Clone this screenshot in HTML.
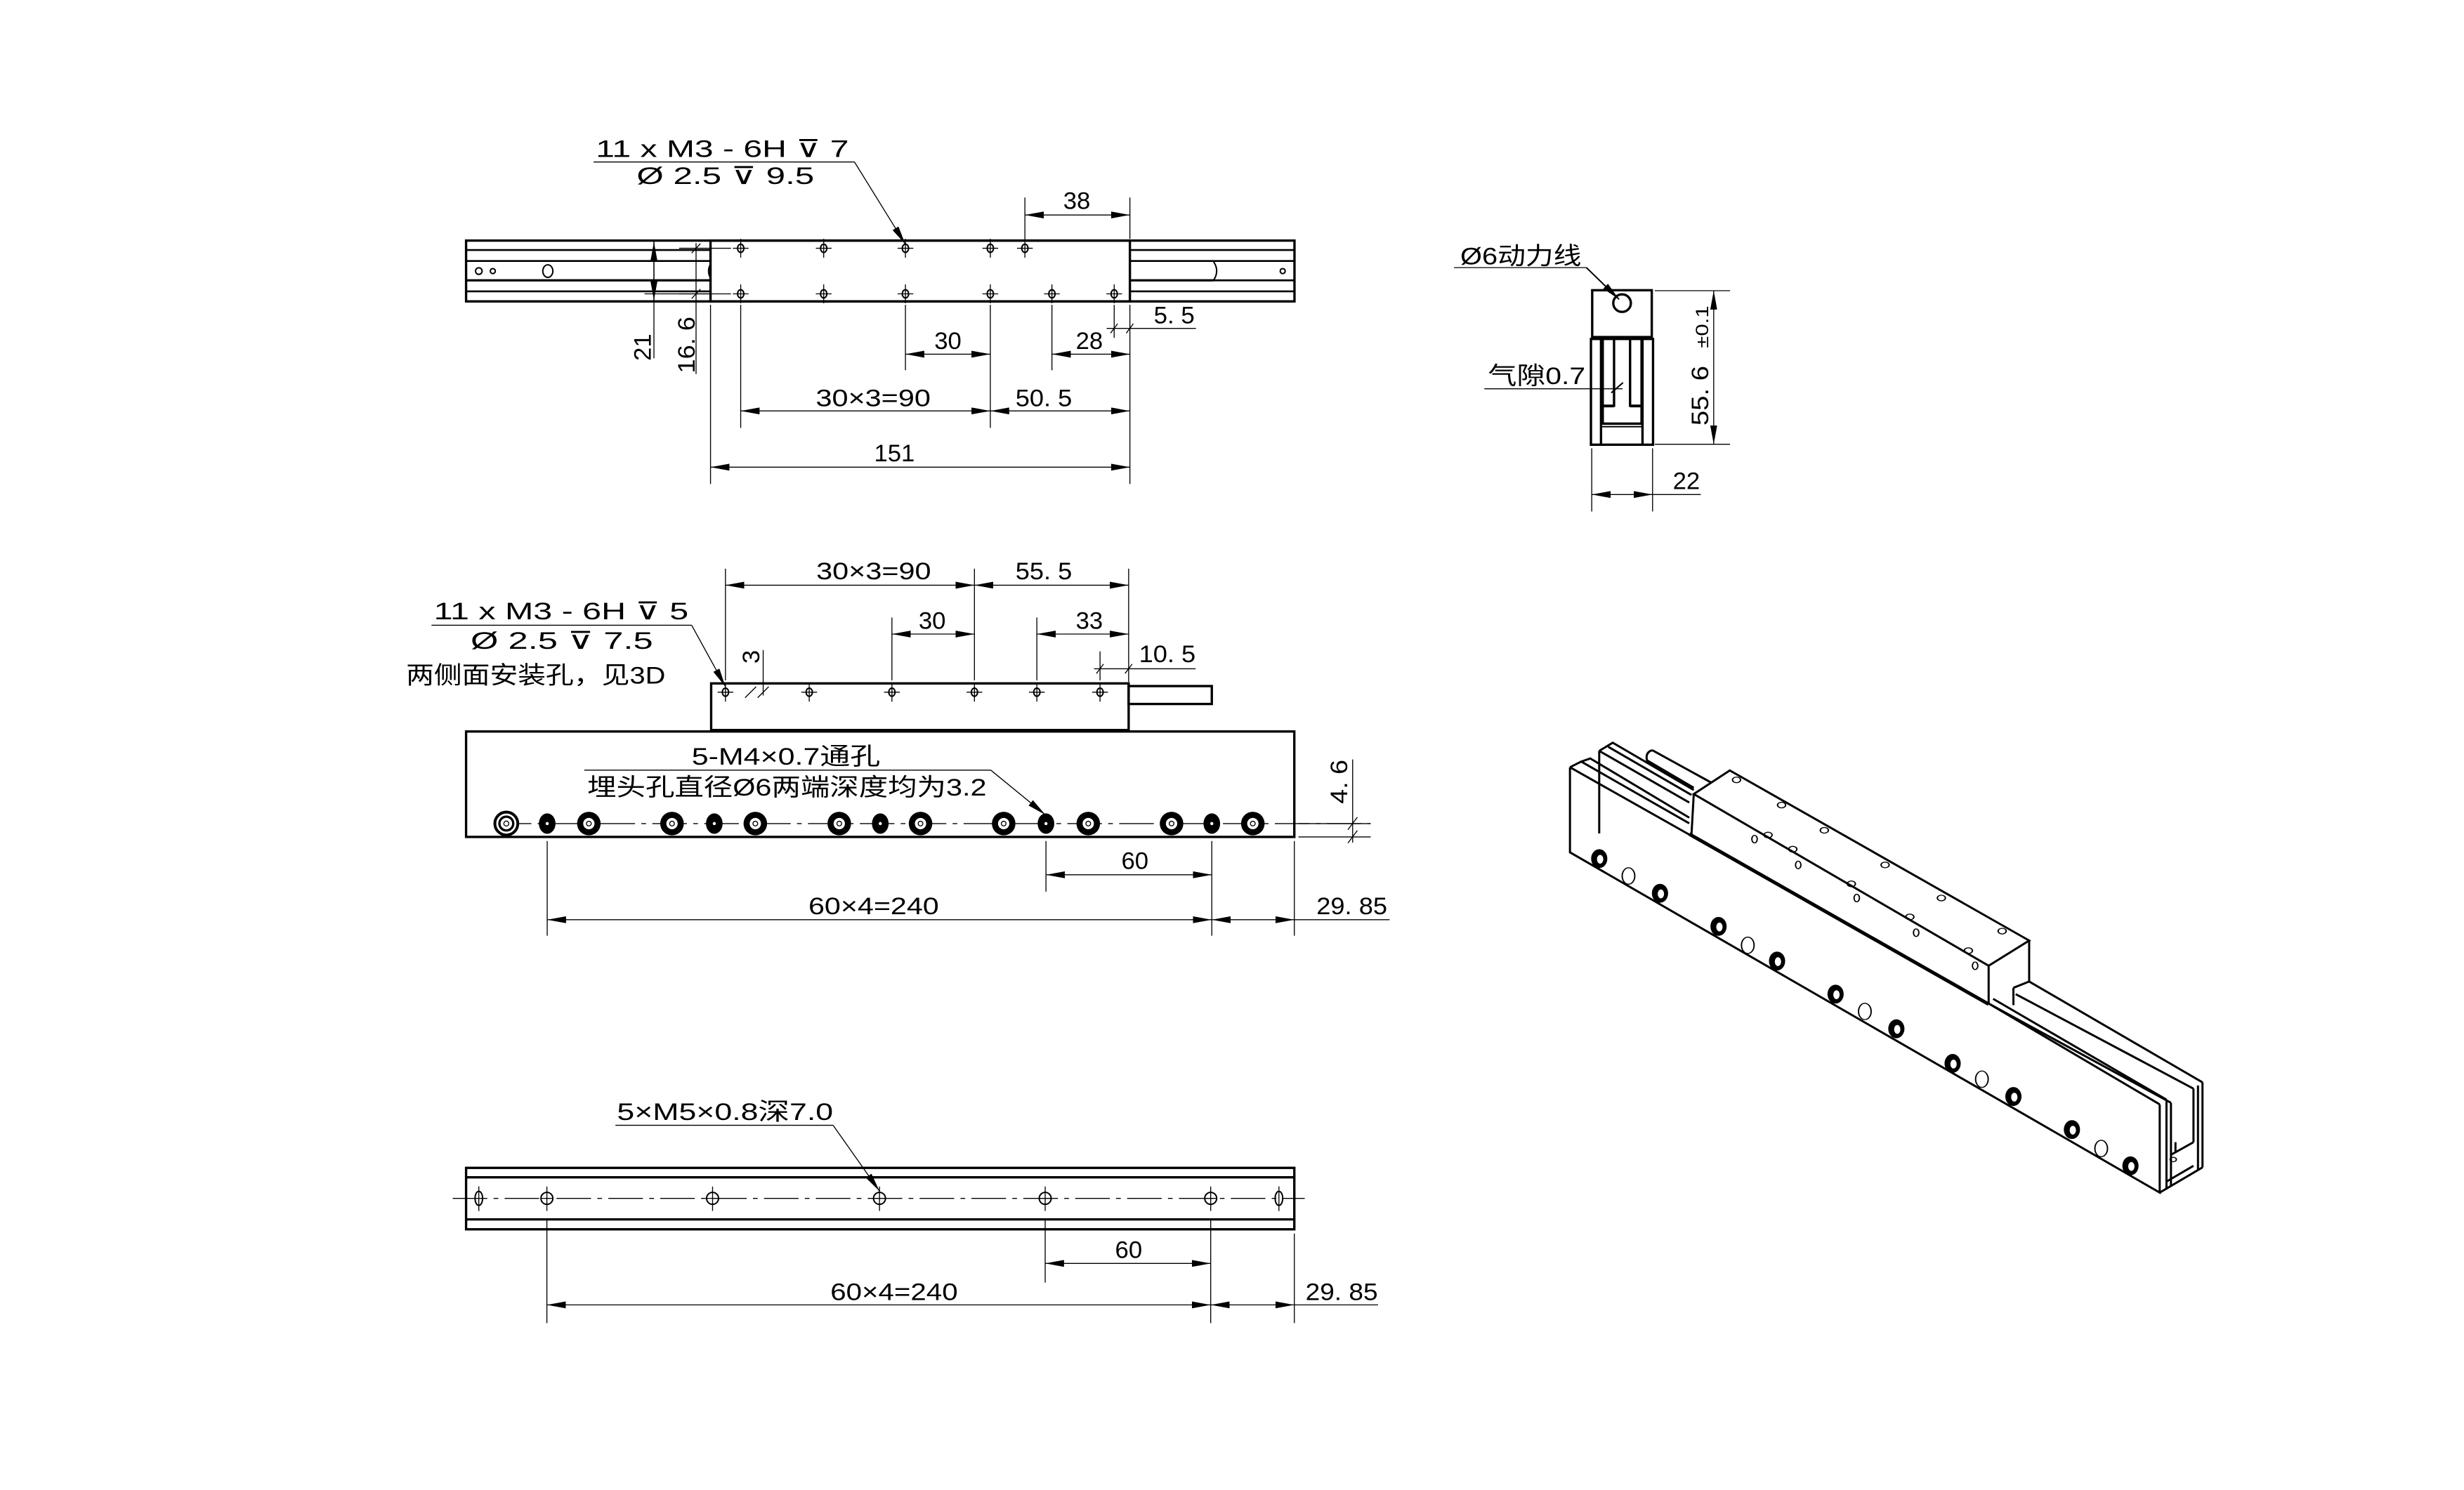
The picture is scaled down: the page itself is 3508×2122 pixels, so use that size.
<!DOCTYPE html>
<html><head><meta charset="utf-8">
<style>
html,body{margin:0;padding:0;background:#fff;}
svg{display:block;}
.k{stroke:#000;stroke-width:1.5;fill:none;}
.t{stroke:#000;stroke-width:0.6;fill:none;}
.m{stroke:#000;stroke-width:0.9;fill:none;}
text{font-family:"Liberation Sans","Noto Sans CJK SC","DejaVu Sans",sans-serif;font-size:15.5px;fill:#000;}
.v{stroke:#000;fill:none;vector-effect:non-scaling-stroke;stroke-width:3;}
</style></head>
<body>
<svg width="3508" height="2122" viewBox="0 0 1567.5 948.2" xmlns="http://www.w3.org/2000/svg">
<defs>
<marker id="a" viewBox="0 0 12 4.4" refX="12" refY="2.2" markerWidth="12" markerHeight="4.4" markerUnits="userSpaceOnUse" orient="auto-start-reverse"><path d="M0,0L12,2.2L0,4.4z" fill="#000"/></marker>
<g id="h1"><ellipse cx="0" cy="0" rx="2" ry="2.6" class="m"/><line x1="0" y1="-6" x2="0" y2="6" class="t"/><line x1="-5" y1="0" x2="5" y2="0" class="t"/></g>
<g id="cb"><circle r="7.5" fill="#000"/><circle r="3.6" fill="#fff"/><circle r="1.5" class="t"/></g>
<g id="sh"><ellipse rx="5.3" ry="6.5" fill="#000"/><circle r="1" fill="#fff"/></g>
<g id="bh"><ellipse rx="3.8" ry="3.8" class="m"/><line x1="0" y1="-7.5" x2="0" y2="8" class="t"/><line x1="-4" y1="0" x2="4" y2="0" class="t"/></g>
</defs>

<!-- ===== VIEW 1 (top) ===== -->
<rect x="296.5" y="153.1" width="527" height="38.7" class="k"/>
<g class="t" style="stroke-width:1.2">
<line x1="296" y1="159.1" x2="452" y2="159.1"/><line x1="296" y1="166.1" x2="452" y2="166.1"/>
<line x1="296" y1="185.4" x2="452" y2="185.4"/>
<line x1="719" y1="159.1" x2="824" y2="159.1"/><line x1="719" y1="166.1" x2="824" y2="166.1"/>
<line x1="719" y1="185.4" x2="824" y2="185.4"/><line x1="772" y1="178.4" x2="824" y2="178.4"/>
</g>
<line x1="296" y1="178.4" x2="452" y2="178.4" class="k"/>
<line x1="719" y1="178.4" x2="772" y2="178.4" class="k"/>
<path d="M772,166.5 Q776,172.4 772,178.4" class="m"/>
<circle cx="304.6" cy="172.5" r="2.1" class="m"/><circle cx="313.5" cy="172.5" r="1.6" class="m"/>
<ellipse cx="348.5" cy="172.5" rx="3.2" ry="4" class="m"/>
<circle cx="816" cy="172.5" r="1.6" class="m"/>
<rect x="452" y="153.1" width="266.8" height="38.7" class="k"/>
<path d="M452,168 Q449.5,172.5 452,177" class="m"/>
<use href="#h1" x="471.2" y="158"/><use href="#h1" x="524" y="158"/><use href="#h1" x="576" y="158"/><use href="#h1" x="630" y="158"/><use href="#h1" x="652" y="158"/>
<use href="#h1" x="471.2" y="187"/><use href="#h1" x="524" y="187"/><use href="#h1" x="576" y="187"/><use href="#h1" x="630" y="187"/><use href="#h1" x="669.2" y="187"/><use href="#h1" x="708.8" y="187"/>
<!-- ext lines -->
<g class="t">
<line x1="471.2" y1="194" x2="471.2" y2="272.3"/><line x1="576" y1="194" x2="576" y2="235.6"/>
<line x1="630" y1="194" x2="630" y2="272.3"/><line x1="669.2" y1="194" x2="669.2" y2="235.6"/>
<line x1="708.8" y1="194" x2="708.8" y2="215"/><line x1="718.8" y1="194" x2="718.8" y2="308"/>
<line x1="452" y1="194" x2="452" y2="308"/>
<line x1="652" y1="125.7" x2="652" y2="152"/><line x1="718.8" y1="125.7" x2="718.8" y2="152"/>
<line x1="432" y1="158" x2="465" y2="158"/><line x1="432" y1="187" x2="465" y2="187"/>
<line x1="410" y1="187" x2="452" y2="187"/>
<line x1="416" y1="153" x2="416" y2="228"/>
<line x1="442.8" y1="154.7" x2="442.8" y2="238"/>
<line x1="440" y1="161" x2="445.6" y2="155"/><line x1="440" y1="190" x2="445.6" y2="184"/>
</g>
<line x1="416" y1="154" x2="416" y2="191" class="t" marker-start="url(#a)" marker-end="url(#a)"/>
<line x1="652" y1="136.8" x2="718.8" y2="136.8" class="t" marker-start="url(#a)" marker-end="url(#a)"/>
<line x1="576" y1="225.4" x2="630" y2="225.4" class="t" marker-start="url(#a)" marker-end="url(#a)"/>
<line x1="669.2" y1="225.4" x2="718.8" y2="225.4" class="t" marker-start="url(#a)" marker-end="url(#a)"/>
<line x1="471.2" y1="261.5" x2="630" y2="261.5" class="t" marker-start="url(#a)" marker-end="url(#a)"/>
<line x1="630" y1="261.5" x2="718.8" y2="261.5" class="t" marker-start="url(#a)" marker-end="url(#a)"/>
<line x1="452" y1="297.3" x2="718.8" y2="297.3" class="t" marker-start="url(#a)" marker-end="url(#a)"/>
<line x1="704" y1="209" x2="760.8" y2="209" class="t"/>
<line x1="706.5" y1="212" x2="711" y2="206" class="t"/><line x1="716.5" y1="212" x2="721" y2="206" class="t"/>
<line x1="377.6" y1="103.1" x2="543.6" y2="103.1" class="t"/>
<line x1="543.6" y1="103.1" x2="576" y2="155.5" class="t" marker-end="url(#a)"/>
<text x="379" y="99.8" textLength="161" lengthAdjust="spacingAndGlyphs">11 x  M3 - 6H ⊽ 7</text>
<text x="405" y="117" textLength="113" lengthAdjust="spacingAndGlyphs">Ø 2.5 ⊽ 9.5</text>
<text x="685" y="133" text-anchor="middle">38</text>
<text x="603" y="222" text-anchor="middle">30</text>
<text x="693" y="222" text-anchor="middle">28</text>
<text x="747" y="205.8" text-anchor="middle" textLength="26" lengthAdjust="spacingAndGlyphs">5. 5</text>
<text transform="translate(414,221) rotate(-90)" text-anchor="middle">21</text>
<text transform="translate(442,219.5) rotate(-90)" text-anchor="middle" textLength="36" lengthAdjust="spacingAndGlyphs">16. 6</text>
<text x="555.5" y="258.6" text-anchor="middle" textLength="73" lengthAdjust="spacingAndGlyphs">30×3=90</text>
<text x="664" y="258.6" text-anchor="middle" textLength="36" lengthAdjust="spacingAndGlyphs">50. 5</text>
<text x="569" y="293.6" text-anchor="middle">151</text>

<!-- ===== VIEW 2 (end) ===== -->
<rect x="1012.9" y="184.7" width="37.9" height="29.8" class="k"/>
<rect x="1012.1" y="215.7" width="39.5" height="67.3" class="k"/>
<line x1="1018.5" y1="215.7" x2="1018.5" y2="283" class="k"/>
<line x1="1044.9" y1="215.7" x2="1044.9" y2="283" class="k"/>
<rect x="1019.6" y="215.5" width="7.2" height="42.7" class="k"/>
<rect x="1037" y="215.5" width="7.3" height="42.7" class="k"/>
<path d="M1026.8,258.5 L1019.6,258.5 L1019.6,269.6 L1044.3,269.6 L1044.3,258.5 L1037,258.5" class="k"/>
<line x1="1018.5" y1="271.5" x2="1044.9" y2="271.5" class="m"/>
<circle cx="1031.9" cy="192.9" r="5.6" class="k"/>
<line x1="925" y1="170.3" x2="1009.2" y2="170.3" class="t"/>
<line x1="1009.2" y1="170.3" x2="1030" y2="190.5" class="m" marker-end="url(#a)"/>
<text x="929" y="168.3" textLength="77" lengthAdjust="spacingAndGlyphs">Ø6动力线</text>
<line x1="944.3" y1="247.4" x2="1032.2" y2="247.4" class="t"/>
<line x1="1025" y1="250" x2="1032.5" y2="243.5" class="m"/>
<text x="946.6" y="244.4" textLength="62" lengthAdjust="spacingAndGlyphs">气隙0.7</text>
<line x1="1052.7" y1="185" x2="1100.6" y2="185" class="t"/>
<line x1="1052.7" y1="282.7" x2="1100.6" y2="282.7" class="t"/>
<line x1="1090.2" y1="185" x2="1090.2" y2="282.7" class="t" marker-start="url(#a)" marker-end="url(#a)"/>
<text transform="translate(1086.6,251.8) rotate(-90)" text-anchor="middle" textLength="38" lengthAdjust="spacingAndGlyphs">55. 6</text>
<text transform="translate(1086.6,208) rotate(-90)" text-anchor="middle" style="font-size:11px" textLength="27" lengthAdjust="spacingAndGlyphs">±0.1</text>
<line x1="1012.6" y1="285.3" x2="1012.6" y2="325.5" class="t"/>
<line x1="1051.3" y1="285.3" x2="1051.3" y2="325.5" class="t"/>
<line x1="1012.6" y1="314.7" x2="1051.3" y2="314.7" class="t" marker-start="url(#a)" marker-end="url(#a)"/>
<line x1="1051.3" y1="314.7" x2="1082" y2="314.7" class="t"/>
<text x="1072.8" y="311.3" text-anchor="middle">22</text>

<!-- ===== VIEW 3 (side) ===== -->
<rect x="452.4" y="434.9" width="265.6" height="29.7" class="k"/>
<rect x="718" y="436.6" width="52.9" height="11.4" class="k"/>
<rect x="296.5" y="465.5" width="526.9" height="67.1" class="k"/>
<use href="#h1" x="461.5" y="440.5"/><use href="#h1" x="514.8" y="440.5"/><use href="#h1" x="567.4" y="440.5"/><use href="#h1" x="619.9" y="440.5"/><use href="#h1" x="659.6" y="440.5"/><use href="#h1" x="699.8" y="440.5"/>
<line x1="316" y1="524.1" x2="872" y2="524.1" class="t" stroke-dasharray="22 4 3 4"/>
<g>
<circle cx="322.1" cy="524.1" r="7.3" fill="#fff" stroke="#000" stroke-width="1.8"/><circle cx="322.1" cy="524.1" r="4.4" class="k"/><circle cx="322.1" cy="524.1" r="1.6" class="t"/>
<use href="#sh" x="348.1" y="524.1"/><use href="#cb" x="374.6" y="524.1"/><use href="#cb" x="427.5" y="524.1"/>
<use href="#sh" x="454.4" y="524.1"/><use href="#cb" x="480.5" y="524.1"/><use href="#cb" x="533.9" y="524.1"/>
<use href="#sh" x="560" y="524.1"/><use href="#cb" x="585.6" y="524.1"/><use href="#cb" x="638.5" y="524.1"/>
<use href="#sh" x="665.4" y="524.1"/><use href="#cb" x="692.3" y="524.1"/><use href="#cb" x="745.3" y="524.1"/>
<use href="#sh" x="770.9" y="524.1"/><use href="#cb" x="797" y="524.1"/>
</g>
<g class="t">
<line x1="461.5" y1="361.9" x2="461.5" y2="433"/><line x1="619.9" y1="361.9" x2="619.9" y2="433"/>
<line x1="718" y1="361.9" x2="718" y2="434"/>
<line x1="567.4" y1="393" x2="567.4" y2="433"/><line x1="659.6" y1="393" x2="659.6" y2="433"/>
<line x1="699.8" y1="414.5" x2="699.8" y2="433"/>
<line x1="485.5" y1="413.7" x2="485.5" y2="442.6"/>
<line x1="482" y1="444" x2="489" y2="437"/><line x1="474" y1="444" x2="481" y2="437"/>
<line x1="826" y1="524.1" x2="872" y2="524.1"/><line x1="826" y1="532.6" x2="872" y2="532.6"/>
<line x1="860.5" y1="483.3" x2="860.5" y2="536.2"/>
<line x1="857.5" y1="528" x2="863.5" y2="520"/><line x1="857.5" y1="536.5" x2="863.5" y2="528.5"/>
<line x1="665.4" y1="535.2" x2="665.4" y2="567.4"/><line x1="770.9" y1="535.2" x2="770.9" y2="595.5"/>
<line x1="348.1" y1="535.2" x2="348.1" y2="595.5"/><line x1="823.4" y1="535.2" x2="823.4" y2="595.5"/>
<line x1="823.4" y1="585.3" x2="884" y2="585.3"/>
<line x1="696" y1="425.6" x2="760.6" y2="425.6"/>
<line x1="697.5" y1="428.6" x2="702" y2="422.6"/><line x1="715.7" y1="428.6" x2="720.2" y2="422.6"/>
<line x1="274.5" y1="397.9" x2="440" y2="397.9"/>
<line x1="371.7" y1="490.1" x2="630.3" y2="490.1"/>
</g>
<line x1="461.5" y1="372.4" x2="619.9" y2="372.4" class="t" marker-start="url(#a)" marker-end="url(#a)"/>
<line x1="619.9" y1="372.4" x2="718" y2="372.4" class="t" marker-start="url(#a)" marker-end="url(#a)"/>
<line x1="567.4" y1="403.5" x2="619.9" y2="403.5" class="t" marker-start="url(#a)" marker-end="url(#a)"/>
<line x1="659.6" y1="403.5" x2="718" y2="403.5" class="t" marker-start="url(#a)" marker-end="url(#a)"/>
<line x1="665.4" y1="556.7" x2="770.9" y2="556.7" class="t" marker-start="url(#a)" marker-end="url(#a)"/>
<line x1="348.1" y1="585.3" x2="770.9" y2="585.3" class="t" marker-start="url(#a)" marker-end="url(#a)"/>
<line x1="770.9" y1="585.3" x2="823.4" y2="585.3" class="t" marker-start="url(#a)" marker-end="url(#a)"/>
<line x1="440" y1="397.9" x2="461.5" y2="437" class="t" marker-end="url(#a)"/>
<line x1="630.3" y1="490.1" x2="665" y2="518.5" class="t" marker-end="url(#a)"/>
<text x="555.8" y="368.7" text-anchor="middle" textLength="73" lengthAdjust="spacingAndGlyphs">30×3=90</text>
<text x="664" y="368.7" text-anchor="middle" textLength="36" lengthAdjust="spacingAndGlyphs">55. 5</text>
<text x="593" y="400.1" text-anchor="middle">30</text>
<text x="693" y="400.1" text-anchor="middle">33</text>
<text x="742.6" y="421.3" text-anchor="middle" textLength="36" lengthAdjust="spacingAndGlyphs">10. 5</text>
<text transform="translate(483,418) rotate(-90)" text-anchor="middle">3</text>
<text x="276" y="394.1" textLength="162" lengthAdjust="spacingAndGlyphs">11 x  M3 - 6H ⊽ 5</text>
<text x="299.4" y="412.8" textLength="116" lengthAdjust="spacingAndGlyphs">Ø 2.5 ⊽ 7.5</text>
<text x="258.3" y="434.9" textLength="165" lengthAdjust="spacingAndGlyphs">两侧面安装孔，见3D</text>
<text x="440" y="486.7" textLength="120" lengthAdjust="spacingAndGlyphs">5-M4×0.7通孔</text>
<text x="373.6" y="506.3" textLength="254" lengthAdjust="spacingAndGlyphs">埋头孔直径Ø6两端深度均为3.2</text>
<text transform="translate(857,497.5) rotate(-90)" text-anchor="middle" textLength="28" lengthAdjust="spacingAndGlyphs">4. 6</text>
<text x="722" y="553" text-anchor="middle">60</text>
<text x="555.8" y="581.9" text-anchor="middle" textLength="83" lengthAdjust="spacingAndGlyphs">60×4=240</text>
<text x="860" y="581.9" text-anchor="middle" textLength="45" lengthAdjust="spacingAndGlyphs">29. 85</text>

<!-- ===== VIEW 4 (bottom rail) ===== -->
<rect x="296.5" y="743.2" width="526.9" height="39.1" class="k"/>
<line x1="296" y1="749.2" x2="823" y2="749.2" class="k"/>
<line x1="296" y1="776" x2="823" y2="776" class="k"/>
<line x1="288" y1="762.6" x2="830" y2="762.6" class="t" stroke-dasharray="22 4 3 4"/>
<g><ellipse cx="304.6" cy="762.6" rx="2.4" ry="4.5" class="m"/><line x1="304.6" y1="755" x2="304.6" y2="770.7" class="t"/></g>
<use href="#bh" x="347.9" y="762.6"/><use href="#bh" x="453.3" y="762.6"/><use href="#bh" x="559.5" y="762.6"/><use href="#bh" x="664.9" y="762.6"/><use href="#bh" x="770.2" y="762.6"/>
<g><ellipse cx="813.6" cy="762.6" rx="2.4" ry="4.5" class="m"/><line x1="813.6" y1="755" x2="813.6" y2="770.7" class="t"/></g>
<g class="t">
<line x1="347.9" y1="776" x2="347.9" y2="842"/><line x1="664.9" y1="776" x2="664.9" y2="816.2"/>
<line x1="770.2" y1="776" x2="770.2" y2="842"/><line x1="823.4" y1="785" x2="823.4" y2="842"/>
<line x1="823.4" y1="830.4" x2="876.7" y2="830.4"/>
<line x1="391.5" y1="716.1" x2="530" y2="716.1"/>
</g>
<line x1="664.9" y1="804" x2="770.2" y2="804" class="t" marker-start="url(#a)" marker-end="url(#a)"/>
<line x1="347.9" y1="830.4" x2="770.2" y2="830.4" class="t" marker-start="url(#a)" marker-end="url(#a)"/>
<line x1="770.2" y1="830.4" x2="823.4" y2="830.4" class="t" marker-start="url(#a)" marker-end="url(#a)"/>
<line x1="530" y1="716.1" x2="559.5" y2="758" class="t" marker-end="url(#a)"/>
<text x="392.5" y="712.7" textLength="137.5" lengthAdjust="spacingAndGlyphs">5×M5×0.8深7.0</text>
<text x="718" y="800.6" text-anchor="middle">60</text>
<text x="568.8" y="827.4" text-anchor="middle" textLength="81" lengthAdjust="spacingAndGlyphs">60×4=240</text>
<text x="853.5" y="827.4" text-anchor="middle" textLength="46" lengthAdjust="spacingAndGlyphs">29. 85</text>

<!-- ===== 3D VIEW ===== -->
<g transform="translate(983,460.2) scale(0.2864,0.2005)">
<path class="v" d="M55,140 L55,410 L1365,1490 L1365,1210"/>
<path class="v" d="M55,140 L985,890 L1365,1210"/>
<path class="v" d="M320,352 L985,892" style="stroke-width:5"/>
<path class="v" d="M55,140 L80,122 L320,318"/>
<path class="v" d="M80,122 L100,112 L320,300"/>
<path class="v" d="M120,88 L120,350"/>
<path class="v" d="M120,88 L150,62 L330,212"/>
<path class="v" d="M120,88 L320,252"/>
<path class="v" d="M140,75 L325,228"/>
<path class="v" d="M238,86 Q222,92 226,118 L330,205"/>
<path class="v" d="M238,86 L368,188"/>
<path class="v" d="M330,225 L410,150 L1075,690 L985,770 Z"/>
<path class="v" d="M330,225 L325,352"/>
<path class="v" d="M985,770 L985,890"/>
<path class="v" d="M1075,690 L1075,820"/>
<path class="v" d="M985,890 L1390,1205"/>
<path class="v" d="M995,875 L1380,1195"/>
<path class="v" d="M1040,840 L1040,895"/>
<path class="v" d="M1040,840 L1075,820 L1460,1140"/>
<path class="v" d="M1045,860 L1440,1160"/>
<path class="v" d="M1380,1200 L1380,1480"/>
<path class="v" d="M1390,1205 L1390,1470"/>
<path class="v" d="M1440,1160 L1440,1330"/>
<path class="v" d="M1450,1150 L1450,1420"/>
<path class="v" d="M1460,1140 L1460,1410"/>
<path class="v" d="M1365,1490 L1460,1410"/>
<path class="v" d="M1390,1370 L1440,1330"/>
<path class="v" d="M1380,1455 L1440,1405"/>
<path class="v" d="M1400,1330 L1400,1360"/>
<g fill="#000">
<ellipse cx="120" cy="430" rx="18" ry="30"/><ellipse cx="255" cy="540" rx="18" ry="30"/><ellipse cx="385" cy="645" rx="18" ry="30"/><ellipse cx="515" cy="755" rx="18" ry="30"/><ellipse cx="645" cy="860" rx="18" ry="30"/><ellipse cx="780" cy="970" rx="18" ry="30"/><ellipse cx="905" cy="1080" rx="18" ry="30"/><ellipse cx="1040" cy="1185" rx="18" ry="30"/><ellipse cx="1170" cy="1290" rx="18" ry="30"/><ellipse cx="1300" cy="1405" rx="18" ry="30"/>
</g>
<g fill="#fff">
<ellipse cx="122" cy="432" rx="7" ry="14"/><ellipse cx="257" cy="542" rx="7" ry="14"/><ellipse cx="387" cy="647" rx="7" ry="14"/><ellipse cx="517" cy="757" rx="7" ry="14"/><ellipse cx="647" cy="862" rx="7" ry="14"/><ellipse cx="782" cy="972" rx="7" ry="14"/><ellipse cx="907" cy="1082" rx="7" ry="14"/><ellipse cx="1042" cy="1187" rx="7" ry="14"/><ellipse cx="1172" cy="1292" rx="7" ry="14"/><ellipse cx="1302" cy="1407" rx="7" ry="14"/>
</g>
<g class="v">
<ellipse cx="185" cy="485" rx="14" ry="26"/><ellipse cx="450" cy="705" rx="14" ry="26"/><ellipse cx="710" cy="915" rx="14" ry="26"/><ellipse cx="970" cy="1130" rx="14" ry="26"/><ellipse cx="1235" cy="1350" rx="14" ry="26"/>
<ellipse cx="425" cy="180" rx="9" ry="9"/><ellipse cx="525" cy="260" rx="9" ry="9"/><ellipse cx="620" cy="340" rx="9" ry="9"/><ellipse cx="755" cy="450" rx="9" ry="9"/><ellipse cx="880" cy="555" rx="9" ry="9"/><ellipse cx="1015" cy="660" rx="9" ry="9"/>
<ellipse cx="495" cy="355" rx="9" ry="9"/><ellipse cx="550" cy="400" rx="9" ry="9"/><ellipse cx="680" cy="510" rx="9" ry="9"/><ellipse cx="810" cy="615" rx="9" ry="9"/><ellipse cx="940" cy="722" rx="9" ry="9"/>
<ellipse cx="465" cy="368" rx="6" ry="12"/><ellipse cx="562" cy="450" rx="6" ry="12"/><ellipse cx="692" cy="555" rx="6" ry="12"/><ellipse cx="824" cy="665" rx="6" ry="12"/><ellipse cx="955" cy="770" rx="6" ry="12"/>
<ellipse cx="1395" cy="1385" rx="7" ry="7"/>
</g>
</g>
</svg>
</body></html>
